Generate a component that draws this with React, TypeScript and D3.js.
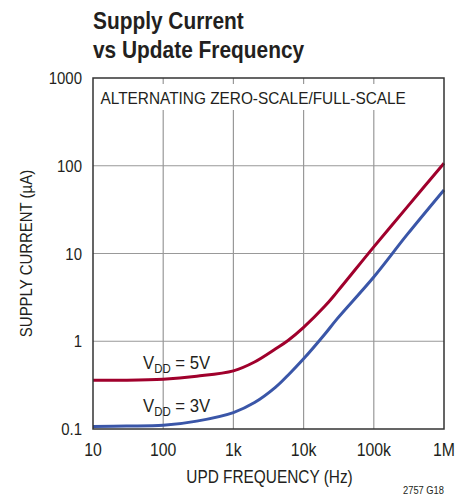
import React from 'react';
import * as d3 from 'd3';

const xTicks = [10, 100, 1000, 10000, 100000, 1000000];
const xTickLabels = ['10', '100', '1k', '10k', '100k', '1M'];
const yTicks = [0.1, 1, 10, 100, 1000];
const yTickLabels = ['0.1', '1', '10', '100', '1000'];

// supply current (µA) vs update frequency (Hz)
const freq = [10, 30, 100, 300, 1000, 2000, 4000, 6000, 10000, 20000, 30000, 100000, 300000, 1000000];
const vdd5 = [0.36, 0.36, 0.37, 0.4, 0.46, 0.58, 0.82, 1.02, 1.44, 2.5, 3.65, 11.9, 34, 107];
const vdd3 = [0.107, 0.108, 0.11, 0.123, 0.154, 0.2, 0.3, 0.41, 0.63, 1.2, 1.8, 5.4, 16.5, 53];

const FONT = '"Liberation Sans", Arial, sans-serif';
const INK = '#231f20';

// condensed text: normal font squeezed horizontally
const T = ({ x, y, size, anchor = 'start', sx = 0.88, rot = 0, weight = 'normal', children }: any) => (
  <text
    transform={`translate(${x},${y}) rotate(${rot}) scale(${sx},1)`}
    fontSize={size}
    fontWeight={weight}
    textAnchor={anchor}
    fill={INK}
  >
    {children}
  </text>
);

export default function App() {
  const margin = { top: 78, left: 93, right: 28, bottom: 68 };
  const W = 472;
  const H = 497;
  const x = d3.scaleLog().domain([10, 1e6]).range([margin.left, W - margin.right]);
  const y = d3.scaleLog().domain([0.1, 1000]).range([H - margin.bottom, margin.top]);

  const line = d3
    .line<number>()
    .x((_, i) => x(freq[i]))
    .y((d) => y(d))
    .curve(d3.curveCatmullRom.alpha(0.5));

  const [x0, x1] = x.range();
  const [yb, yt] = y.range();

  return (
    <svg width={W} height={H} style={{ position: 'absolute', left: 0, top: 0 }} fontFamily={FONT}>
      <rect width={W} height={H} fill="#fff" />
      <T x={93} y={29} size={24} sx={0.87} weight="bold">Supply Current</T>
      <T x={93} y={58} size={24} sx={0.87} weight="bold">vs Update Frequency</T>

      {/* grid */}
      {xTicks.slice(1, -1).map((t) => (
        <line key={'gx' + t} x1={x(t)} x2={x(t)} y1={yt} y2={yb} stroke="#999" strokeWidth={1.2} />
      ))}
      {yTicks.slice(1, -1).map((t) => (
        <line key={'gy' + t} x1={x0} x2={x1} y1={y(t)} y2={y(t)} stroke="#999" strokeWidth={1.2} />
      ))}
      <rect x={x0 + 2} y={yt + 6} width={322} height={26} fill="#fff" />
      <T x={100.5} y={104} size={17} sx={0.905}>ALTERNATING ZERO-SCALE/FULL-SCALE</T>

      <path d={line(vdd5) || ''} fill="none" stroke="#a0002c" strokeWidth={3} />
      <path d={line(vdd3) || ''} fill="none" stroke="#3a56a8" strokeWidth={3} />

      <rect x={x0} y={yt} width={x1 - x0} height={yb - yt} fill="none" stroke="#333" strokeWidth={1.5} />

      {xTicks.map((t, i) => (
        <T key={'xt' + t} x={x(t)} y={yb + 27} size={18} anchor="middle">
          {xTickLabels[i]}
        </T>
      ))}
      {yTicks.map((t, i) => (
        <T key={'yt' + t} x={x0 - 11} y={y(t) + 6} size={17} anchor="end">
          {yTickLabels[i]}
        </T>
      ))}

      <T x={143} y={369} size={19}>
        V<tspan dy={4} fontSize={13}>DD</tspan><tspan dy={-4}> = 5V</tspan>
      </T>
      <T x={143} y={412} size={19}>
        V<tspan dy={4} fontSize={13}>DD</tspan><tspan dy={-4}> = 3V</tspan>
      </T>

      <T x={(x0 + x1) / 2 + 1} y={483} size={17.5} sx={0.88} anchor="middle">UPD FREQUENCY (Hz)</T>
      <T x={32} y={(yt + yb) / 2} size={17} sx={0.88} rot={-90} anchor="middle">SUPPLY CURRENT (µA)</T>
      <T x={444} y={494} size={11} sx={0.85} anchor="end">2757 G18</T>
    </svg>
  );
}
